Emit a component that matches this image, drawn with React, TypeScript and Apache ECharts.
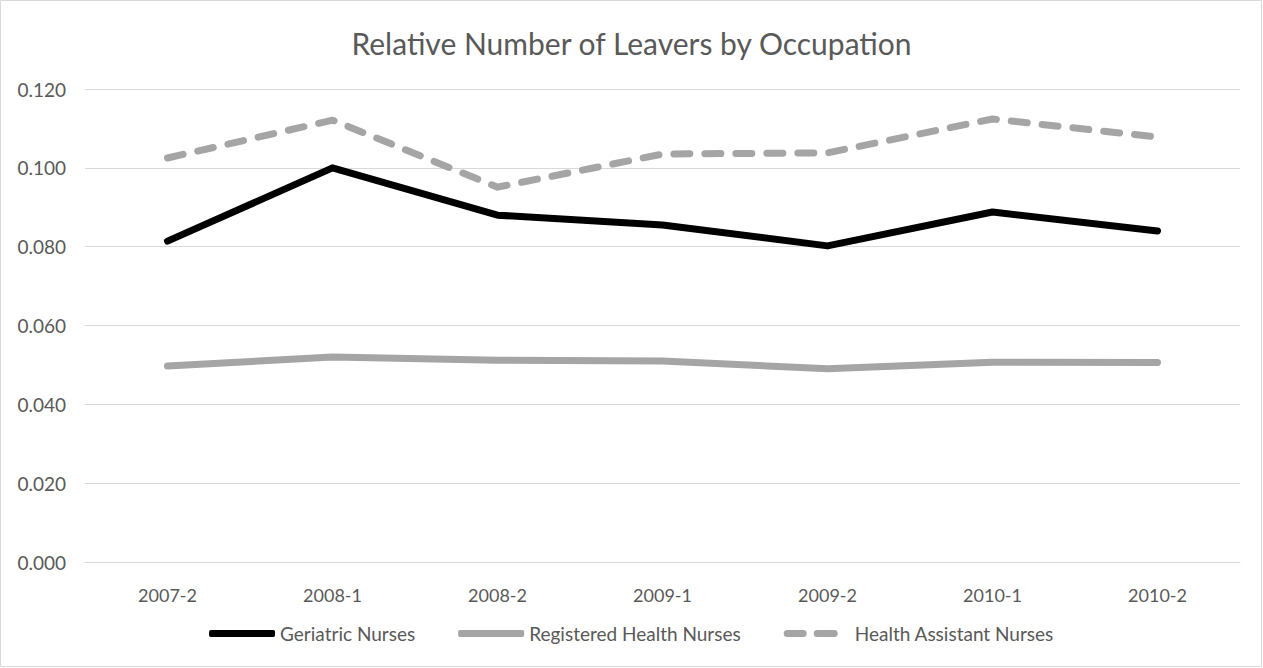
import React, { useEffect, useRef } from "react";
import * as echarts from "echarts";

const categories = ["2007-2", "2008-1", "2008-2", "2009-1", "2009-2", "2010-1", "2010-2"];
const geriatric = [0.0814, 0.1, 0.088, 0.0855, 0.0802, 0.0888, 0.084];
const registered = [0.0497, 0.052, 0.0512, 0.051, 0.049, 0.0507, 0.0506];
const assistant = [0.1025, 0.1121, 0.0951, 0.1035, 0.1038, 0.1124, 0.1078];
const seriesNames = ["Geriatric Nurses", "Registered Health Nurses", "Health Assistant Nurses"];

const FONT = "Lato, 'Open Sans', sans-serif";
const DASH_ICON =
  "path://M3.5,0 L19.5,0 A3.5,3.5 0 0 1 19.5,7 L3.5,7 A3.5,3.5 0 0 1 3.5,0 Z " +
  "M33.5,0 L50.5,0 A3.5,3.5 0 0 1 50.5,7 L33.5,7 A3.5,3.5 0 0 1 33.5,0 Z " +
  "M65.9,3.5 L66,3.5 Z";

export default function App() {
  const ref = useRef<HTMLDivElement>(null);
  useEffect(() => {
    if (!ref.current) return;
    const chart = echarts.init(ref.current, undefined, { renderer: "svg" });
    chart.setOption({
      animation: false,
      backgroundColor: "#fff",
      textStyle: { fontFamily: FONT },
      title: {
        text: "Relative Number of Leavers by Occupation",
        left: "center",
        top: 23,
        textStyle: { fontFamily: FONT, fontSize: 30, fontWeight: "normal", color: "#595959" },
      },
      graphic: [
        {
          type: "rect",
          shape: { x: 0.5, y: 0.5, width: 1261, height: 666 },
          style: { fill: "none", stroke: "#d9d9d9", lineWidth: 1 },
          silent: true,
        },
      ],
      legend: {
        top: 619,
        left: "center",
        itemWidth: 66,
        itemHeight: 7,
        itemGap: 43,
        textStyle: { fontFamily: FONT, fontSize: 19, color: "#595959" },
        data: [
          { name: seriesNames[0], icon: "roundRect", itemStyle: { color: "#000000" } },
          { name: seriesNames[1], icon: "roundRect", itemStyle: { color: "#a5a5a5" } },
          { name: seriesNames[2], icon: DASH_ICON, itemStyle: { color: "#a5a5a5" } },
        ],
      },
      grid: { left: 85, right: 23, top: 89, bottom: 106, containLabel: false },
      xAxis: {
        type: "category",
        data: categories,
        boundaryGap: true,
        axisLine: { lineStyle: { color: "#d9d9d9", width: 1 } },
        axisTick: { show: false },
        axisLabel: { margin: 24, fontFamily: FONT, fontSize: 18, color: "#595959" },
      },
      yAxis: {
        type: "value",
        min: 0,
        max: 0.12,
        interval: 0.02,
        axisLine: { show: false },
        axisTick: { show: false },
        splitLine: { lineStyle: { color: "#d9d9d9", width: 1 } },
        axisLabel: {
          margin: 19,
          fontFamily: FONT,
          fontSize: 19,
          color: "#595959",
          formatter: (v: number) => v.toFixed(3),
        },
      },
      series: [
        {
          name: seriesNames[0],
          type: "line",
          data: geriatric,
          symbol: "none",
          color: "#000000",
          lineStyle: { color: "#000000", width: 7, cap: "round", join: "round" },
        },
        {
          name: seriesNames[1],
          type: "line",
          data: registered,
          symbol: "none",
          color: "#a5a5a5",
          lineStyle: { color: "#a5a5a5", width: 7, cap: "round", join: "round" },
        },
        {
          name: seriesNames[2],
          type: "line",
          data: assistant,
          symbol: "none",
          color: "#a5a5a5",
          lineStyle: { color: "#a5a5a5", width: 7, type: [16, 15], cap: "round", join: "round" },
        },
      ],
    });
    return () => chart.dispose();
  }, []);
  return (
    <div
      ref={ref}
      style={{ position: "fixed", left: 0, top: 0, width: 1263, height: 668 }}
    />
  );
}
